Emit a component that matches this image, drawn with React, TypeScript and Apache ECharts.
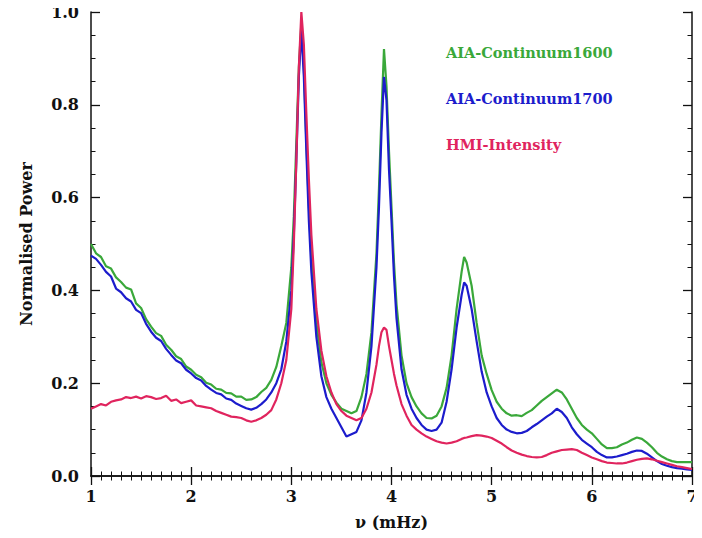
import React, { useEffect, useRef } from "react";
import * as echarts from "echarts";

const freq = [
  1.0, 1.05, 1.1, 1.15, 1.2, 1.25, 1.3, 1.35, 1.4, 1.45, 1.5, 1.55, 1.6, 1.65, 1.7, 1.75, 1.8, 1.85, 1.9, 1.95,
  2.0, 2.05, 2.1, 2.15, 2.2, 2.25, 2.3, 2.35, 2.4, 2.45, 2.5, 2.55, 2.6, 2.65, 2.7, 2.75, 2.8, 2.85, 2.9, 2.95,
  3.0, 3.025, 3.05, 3.075, 3.1, 3.125, 3.15, 3.175, 3.2, 3.25, 3.3, 3.35, 3.4, 3.45, 3.5, 3.55, 3.6, 3.65, 3.7, 3.75,
  3.8, 3.85, 3.875, 3.9, 3.925, 3.95, 3.975, 4.0, 4.025, 4.05, 4.1, 4.15, 4.2, 4.25, 4.3, 4.35, 4.4, 4.45, 4.5, 4.55,
  4.6, 4.65, 4.7, 4.725, 4.75, 4.8, 4.85, 4.9, 4.95, 5.0, 5.05, 5.1, 5.15, 5.2, 5.25, 5.3, 5.35, 5.4, 5.45, 5.5,
  5.55, 5.6, 5.65, 5.7, 5.75, 5.8, 5.85, 5.9, 5.95, 6.0, 6.05, 6.1, 6.15, 6.2, 6.25, 6.3, 6.35, 6.4, 6.45, 6.5,
  6.55, 6.6, 6.65, 6.7, 6.75, 6.8, 6.85, 6.9, 6.95, 7.0,
];

const aia1600 = [
  0.50, 0.48, 0.472, 0.452, 0.447, 0.428, 0.418, 0.406, 0.402, 0.372, 0.362, 0.338, 0.322, 0.308, 0.302, 0.283, 0.272, 0.258, 0.252, 0.236,
  0.229, 0.218, 0.213, 0.201, 0.197, 0.188, 0.186, 0.179, 0.178, 0.171, 0.171, 0.164, 0.165, 0.17, 0.181, 0.19, 0.207, 0.235, 0.28, 0.33,
  0.45, 0.56, 0.72, 0.88, 0.975, 0.88, 0.72, 0.58, 0.47, 0.33, 0.245, 0.2, 0.175, 0.158, 0.145, 0.14, 0.135, 0.14, 0.17, 0.22,
  0.31, 0.48, 0.62, 0.78, 0.92, 0.84, 0.7, 0.58, 0.46, 0.37, 0.26, 0.2, 0.17, 0.15, 0.135, 0.125, 0.124, 0.13, 0.15, 0.19,
  0.26, 0.36, 0.44, 0.472, 0.46, 0.41, 0.33, 0.26, 0.22, 0.185, 0.16, 0.145, 0.135, 0.13, 0.131, 0.129, 0.136, 0.142, 0.152, 0.162,
  0.17, 0.178, 0.186, 0.18, 0.165, 0.145, 0.125, 0.11, 0.1, 0.092, 0.08, 0.068, 0.06, 0.06, 0.062, 0.068, 0.072, 0.078, 0.083, 0.08,
  0.072, 0.062, 0.05, 0.042, 0.036, 0.032, 0.03, 0.03, 0.03, 0.03,
];

const aia1700 = [
  0.475, 0.468, 0.455, 0.44, 0.43, 0.404, 0.396, 0.383, 0.376, 0.358, 0.351, 0.328, 0.311, 0.298, 0.291, 0.274, 0.261, 0.249, 0.243, 0.229,
  0.221, 0.211, 0.206, 0.194, 0.186, 0.179, 0.176, 0.167, 0.164, 0.156, 0.151, 0.146, 0.143, 0.147, 0.155, 0.165, 0.18, 0.2, 0.23, 0.29,
  0.40, 0.52, 0.68, 0.86, 0.96, 0.86, 0.70, 0.55, 0.44, 0.30, 0.215, 0.17, 0.145, 0.125, 0.105, 0.085, 0.09, 0.095, 0.12, 0.18,
  0.28, 0.45, 0.58, 0.74, 0.86, 0.81, 0.66, 0.55, 0.43, 0.34, 0.23, 0.175, 0.145, 0.125, 0.11, 0.1, 0.097, 0.1, 0.115, 0.16,
  0.23, 0.32, 0.39, 0.417, 0.41, 0.36, 0.29, 0.225, 0.18, 0.15, 0.125, 0.11, 0.1, 0.095, 0.092, 0.093, 0.097, 0.105, 0.112, 0.12,
  0.128, 0.135, 0.145, 0.138, 0.125, 0.105, 0.09, 0.078, 0.07, 0.062, 0.052, 0.045, 0.04, 0.04, 0.042, 0.045, 0.048, 0.052, 0.055, 0.054,
  0.048, 0.04, 0.032, 0.026, 0.022, 0.019, 0.017, 0.016, 0.014, 0.013,
];

const hmiIntensity = [
  0.145, 0.15, 0.155, 0.152, 0.16, 0.163, 0.165, 0.17, 0.168, 0.171, 0.167, 0.172, 0.17, 0.166, 0.168, 0.173, 0.162, 0.165, 0.157, 0.16,
  0.163, 0.152, 0.15, 0.148, 0.146, 0.14, 0.136, 0.132, 0.128, 0.127, 0.125, 0.12, 0.117, 0.12, 0.125, 0.132, 0.142, 0.165, 0.2, 0.25,
  0.36, 0.50, 0.68, 0.88, 1.0, 0.93, 0.78, 0.64, 0.52, 0.36, 0.27, 0.215, 0.18, 0.155, 0.14, 0.13, 0.125, 0.12, 0.125, 0.145,
  0.18, 0.24, 0.28, 0.31, 0.32, 0.315, 0.28, 0.25, 0.22, 0.195, 0.155, 0.13, 0.11, 0.1, 0.092, 0.085, 0.08, 0.075, 0.072, 0.07,
  0.072, 0.075, 0.08, 0.082, 0.083, 0.086, 0.088, 0.087, 0.085, 0.082, 0.076, 0.07, 0.062, 0.055, 0.05, 0.046, 0.043, 0.041, 0.04, 0.041,
  0.045, 0.05, 0.053, 0.056, 0.057, 0.058, 0.056, 0.05, 0.045, 0.04, 0.036, 0.032, 0.029, 0.028, 0.027, 0.027, 0.029, 0.032, 0.035, 0.037,
  0.038, 0.036, 0.033, 0.03, 0.027, 0.024, 0.021, 0.019, 0.017, 0.015,
];

const xTicks = [1, 2, 3, 4, 5, 6, 7];
const yTicks = [0.0, 0.2, 0.4, 0.6, 0.8, 1.0];
const seriesNames = ["AIA-Continuum1600", "AIA-Continuum1700", "HMI-Intensity"];
const seriesColors = ["#3aa83a", "#1c1ccc", "#e0245e"];

const FONT = "DejaVu Serif";

export default function App() {
  const ref = useRef<HTMLDivElement>(null);
  useEffect(() => {
    if (!ref.current) return;
    const chart = echarts.init(ref.current, null, { renderer: "svg" });
    const values = [aia1600, aia1700, hmiIntensity];
    const axisLine = { show: true, lineStyle: { color: "#111", width: 1.5 } };
    const tick = { show: true, inside: true, length: 9, lineStyle: { color: "#111", width: 1.3 } };
    const minor = (n: number) => ({ show: true, splitNumber: n, length: 4.5, lineStyle: { color: "#111", width: 1 } });
    chart.setOption({
      animation: false,
      backgroundColor: "#fff",
      grid: { left: 91, right: 10, top: 12, bottom: 62 },
      legend: {
        orient: "vertical",
        left: 436,
        top: 40,
        itemGap: 31,
        itemWidth: 0,
        itemHeight: 0,
        icon: "none",
        selectedMode: false,
        data: seriesNames.map((n, i) => ({
          name: n,
          icon: "none",
          textStyle: { color: seriesColors[i], fontFamily: FONT, fontWeight: "bold", fontSize: 14.5 },
        })),
      },
      xAxis: [
        {
          type: "value",
          min: xTicks[0],
          max: xTicks[xTicks.length - 1],
          interval: 1,
          name: "ν (mHz)",
          nameLocation: "middle",
          nameGap: 38,
          nameTextStyle: { fontFamily: FONT, fontWeight: "bold", fontSize: 16, color: "#111" },
          axisLine,
          axisTick: tick,
          minorTick: minor(10),
          splitLine: { show: false },
          axisLabel: { fontFamily: FONT, fontWeight: "bold", fontSize: 16, color: "#111", margin: 12 },
        },
        {
          type: "value",
          position: "top",
          min: 1,
          max: 7,
          interval: 1,
          axisLine,
          axisTick: tick,
          minorTick: minor(10),
          splitLine: { show: false },
          axisLabel: { show: false },
        },
      ],
      yAxis: [
        {
          type: "value",
          min: yTicks[0],
          max: yTicks[yTicks.length - 1],
          interval: 0.2,
          name: "Normalised Power",
          nameLocation: "middle",
          nameGap: 57,
          nameTextStyle: { fontFamily: FONT, fontWeight: "bold", fontSize: 16, color: "#111" },
          axisLine,
          axisTick: tick,
          minorTick: minor(4),
          splitLine: { show: false },
          axisLabel: {
            fontFamily: FONT,
            fontWeight: "bold",
            fontSize: 16,
            color: "#111",
            margin: 12,
            formatter: (v: number) => v.toFixed(1),
          },
        },
        {
          type: "value",
          position: "right",
          min: 0,
          max: 1,
          interval: 0.2,
          axisLine,
          axisTick: tick,
          minorTick: minor(4),
          splitLine: { show: false },
          axisLabel: { show: false },
        },
      ],
      series: seriesNames.map((n, i) => ({
        name: n,
        type: "line",
        xAxisIndex: 0,
        yAxisIndex: 0,
        showSymbol: false,
        symbol: "none",
        smooth: false,
        lineStyle: { color: seriesColors[i], width: 2.2 },
        itemStyle: { color: seriesColors[i] },
        data: freq.map((f, k) => [f, values[i][k]]),
      })),
    });
    return () => chart.dispose();
  }, []);
  return <div ref={ref} style={{ width: 702, height: 538, margin: -8 }} />;
}
